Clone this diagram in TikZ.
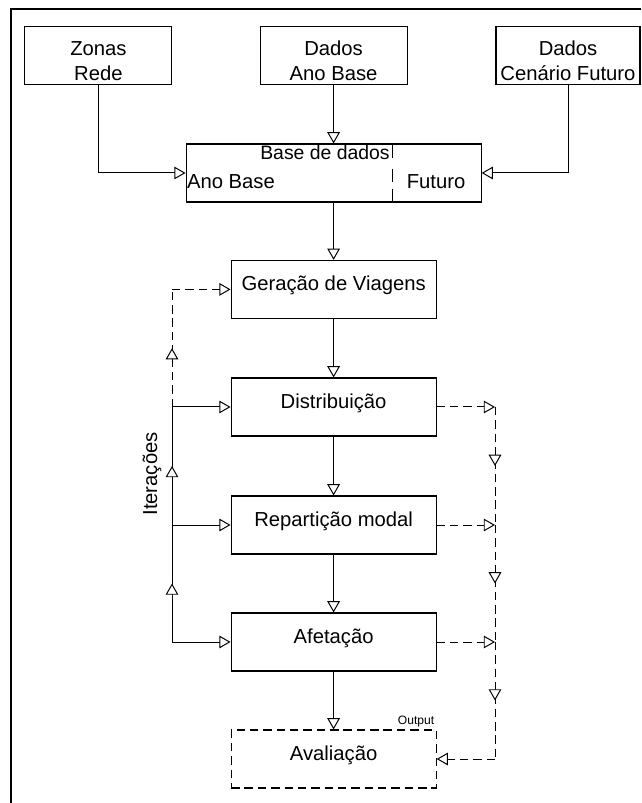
\documentclass[tikz,border=0pt]{standalone}
\usepackage{fontspec}
\setmainfont{Liberation Sans}
\usetikzlibrary{arrows.meta, positioning, decorations.markings}
\tikzset{
  % Common box look
  BASE/.style={rectangle,draw=black,fill=white,minimum width=#1,
             minimum height=1.45cm,align=center,inner sep=0pt,
             font=\fontsize{14.4}{17.8}\selectfont,line width=0.8pt},
  % Plain box, one line of text
  BX/.style={BASE=#1,text height=10.8pt,text depth=9.2pt},
  BX/.default=5.125cm,
  % Input box, two lines of text
  IB/.style={BASE=#1,text height=36.4pt,text depth=0pt},
  IB/.default=3.675cm,
  % Dashed output box
  DBX/.style={BX=#1,dash pattern=on 6pt off 3.5pt},
  DBX/.default=5.125cm,
  % Free text
  LBL/.style={inner sep=0pt,font=\fontsize{14.4}{17.8}\selectfont},
  % Arrows
  Arr/.style ={-{Triangle[length=8pt,width=9pt,fill=white]},line width=0.7pt},
  DArr/.style={Arr,dash pattern=on 6pt off 3.5pt},
  Ln/.style  ={line width=0.7pt},
  DLn/.style ={line width=0.7pt,dash pattern=on 6pt off 3.5pt},
  % Arrow head half way along a line
  MArr/.style={postaction={decorate},
               decoration={markings,mark=at position 0.5 with
               {\arrow{Triangle[length=8pt,width=9pt,fill=white]}}}},
}

\begin{document}
\begin{tikzpicture}
  \useasboundingbox (0,0) rectangle (16.025,20.075);
  % Frame
  \draw[line width=1.4pt] (16.025,19.85) -- (0.28,19.85) -- (0.28,0);
  % Inputs
  \node[IB] at (2.46,18.69) (zr) {Zonas\\Rede};
  \node[IB] at (8.34,18.69) (dab) {Dados\\Ano Base};
  \node[IB=3.6cm] at (14.2,18.69) (dcf) {Dados\\Cenário Futuro};
  % Data base
  \node[BX=7.375cm] at (8.34,15.75) (bd) {};
  \node[LBL,font=\fontsize{13.8}{16}\selectfont] at (8.125,16.27) (bdt)
        {Base de dados};
  \node[LBL,anchor=west] at (4.67,15.525) (bda) {Ano Base};
  \node[LBL] at (10.9,15.525) (bdf) {Futuro};
  \draw[line width=0.7pt,dash pattern=on 10pt off 8pt on 9pt off 5pt]
        (9.8,16.475) -- (9.8,15.025);
  \draw[Arr] (zr.south) |- (bd.west);
  \draw[Arr] (dab) -- (bd);
  \draw[Arr] (dcf.south) |- (bd.east);
  % Model steps
  \node[BX] at (8.34,12.84) (gv) {Geração de Viagens};
  \node[BX] at (8.34,9.9)   (di) {Distribuição};
  \node[BX] at (8.34,6.95)  (rm) {Repartição modal};
  \node[BX] at (8.34,4.025) (af) {Afetação};
  \node[DBX] at (8.34,1.1)  (av) {Avaliação};
  \node[font=\fontsize{8.6}{10}\selectfont,anchor=south east,inner sep=1.5pt]
        at (av.north east) (out) {Output};
  \draw[Arr] (bd) -- (gv);
  \draw[Arr] (gv) -- (di);
  \draw[Arr] (di) -- (rm);
  \draw[Arr] (rm) -- (af);
  \draw[Arr] (af) -- (av);
  % Iterations
  \coordinate (lgv) at (4.3,12.84);
  \coordinate (ldi) at (4.3,9.9);
  \coordinate (lrm) at (4.3,6.95);
  \coordinate (laf) at (4.3,4.025);
  \draw[Ln,MArr]  (laf) -- (lrm);
  \draw[Ln,MArr]  (lrm) -- (ldi);
  \draw[DLn,MArr] (ldi) -- (lgv);
  \draw[DArr] (lgv) -- (gv);
  \foreach \b in {di,rm,af}
    \draw[Arr] (l\b) -- (\b);
  \node[LBL,rotate=90] at (3.8,8.225) (it) {Iterações};
  % Outputs to evaluation
  \coordinate (rdi) at (12.375,9.9);
  \coordinate (rrm) at (12.375,6.95);
  \coordinate (raf) at (12.375,4.025);
  \coordinate (rav) at (12.375,1.1);
  \foreach \b in {di,rm,af}
    \draw[DArr] (\b) -- (r\b);
  \draw[DLn,MArr] (rdi) -- (rrm);
  \draw[DLn,MArr] (rrm) -- (raf);
  \draw[DLn,MArr] (raf) -- (rav);
  \draw[DArr] (rav) -- (av);
\end{tikzpicture}
\end{document}
